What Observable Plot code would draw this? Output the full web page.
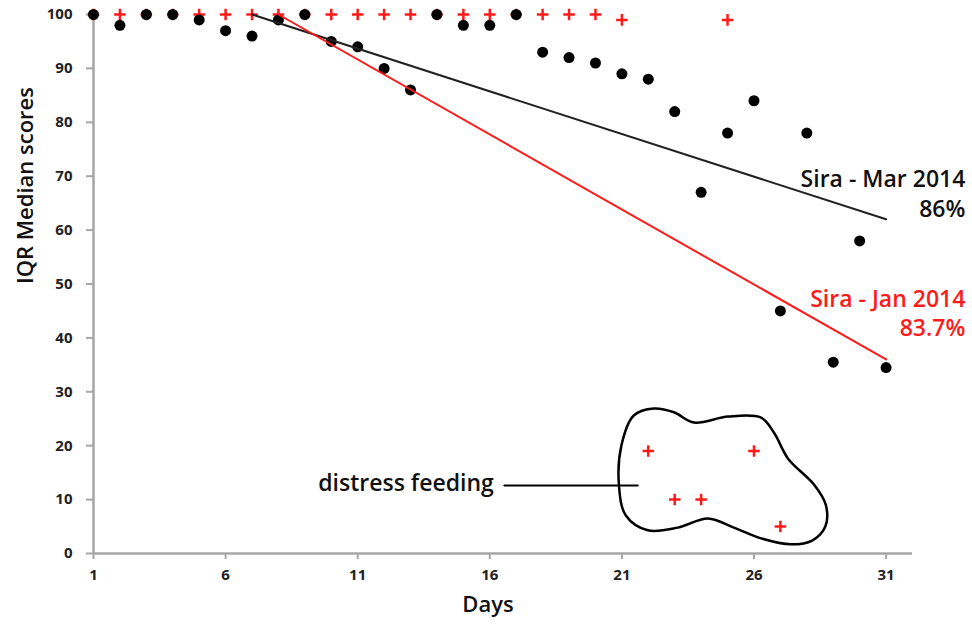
<!DOCTYPE html>
<html>
<head>
<meta charset="utf-8">
<script src="https://cdn.jsdelivr.net/npm/d3@7"></script>
<script src="https://cdn.jsdelivr.net/npm/@observablehq/plot@0.6"></script>
<style>
  html, body { margin: 0; padding: 0; background: #fff; }
  svg { display: block; }
</style>
</head>
<body>
<div id="chart"></div>
<script>
// ---- data ----
const xTicks = [1, 6, 11, 16, 21, 26, 31];
const yTicks = [0, 10, 20, 30, 40, 50, 60, 70, 80, 90, 100];

// Sira - Mar 2014 (black dots)
const marDays   = [1,2,3,4,5,6,7,8,9,10,11,12,13,14,15,16,17,18,19,20,21,22,23,24,25,26,27,28,29,30,31];
const marScores = [100,98,100,100,99,97,96,99,100,95,94,90,86,100,98,98,100,93,92,91,89,88,82,67,78,84,45,78,35.5,58,34.5];

// Sira - Jan 2014 (red crosses)
const janDays   = [1,2,3,4,5,6,7,8,9,10,11,12,13,14,15,16,17,18,19,20,21,22,23,24,25,26,27];
const janScores = [100,100,100,100,100,100,100,100,100,100,100,100,100,100,100,100,100,100,100,100,99,19,10,10,99,19,5];

// trend lines
const marTrendDays = [7, 31];
const marTrendScores = [100, 62];
const janTrendDays = [8, 31];
const janTrendScores = [100, 36];

// series labels
const seriesLabels = ["Sira - Mar 2014\n86%", "Sira - Jan 2014\n83.7%"];
const labelDays = [34, 34];
const labelScores = [67.0, 44.8];

// distress feeding outline
const blobDays   = [22.21,21.45,20.98,20.89,21.15,21.98,23.12,24.26,25.24,26.27,27.40,28.20,28.70,28.72,28.27,27.29,26.76,26.27,25.02,23.73,22.97];
const blobScores = [26.9,25.6,20.0,12.6,7.05,4.3,4.8,6.5,4.8,2.8,1.7,2.4,5.0,9.0,12.8,17.6,22.4,25.2,25.4,24.3,26.2];

const annotText = ["distress feeding"];
const annotDays = [16.15];
const annotScores = [12.9];
const pointerDays = [16.55, 21.6];
const pointerScores = [12.6, 12.6];

// ---- build tables ----
const mar = marDays.map((d, i) => ({day: d, score: marScores[i]}));
const jan = janDays.map((d, i) => ({day: d, score: janScores[i]}));
const marTrend = marTrendDays.map((d, i) => ({day: d, score: marTrendScores[i]}));
const janTrend = janTrendDays.map((d, i) => ({day: d, score: janTrendScores[i]}));
const labels = seriesLabels.map((t, i) => ({text: t, day: labelDays[i], score: labelScores[i], color: i === 0 ? "#111" : "#ff1a1a"}));
const blob = blobDays.map((d, i) => ({day: d, score: blobScores[i]}));
const pointer = pointerDays.map((d, i) => ({day: d, score: pointerScores[i]}));
const annot = annotText.map((t, i) => ({text: t, day: annotDays[i], score: annotScores[i]}));

const axisGray = "#a6a6a6";
const font = "'Open Sans', 'DejaVu Sans', sans-serif";

const chart = Plot.plot({
  width: 972,
  height: 629,
  marginLeft: 93,
  marginRight: 60,
  marginTop: 14,
  marginBottom: 76,
  style: {fontFamily: font, background: "#fff", color: "#222"},
  x: {domain: [1, 32]},
  y: {domain: [0, 100]},
  marks: [
    Plot.axisX({ticks: xTicks, tickSize: 6, stroke: axisGray, strokeWidth: 2, tickFormat: () => "", label: null}),
    Plot.axisY({ticks: yTicks, tickSize: 7, stroke: axisGray, strokeWidth: 2, tickFormat: () => "", label: null}),
    // tick labels
    Plot.text(xTicks, {x: d => d, frameAnchor: "bottom", dy: 26, text: d => String(d), fontSize: 15, fontWeight: "bold", fill: "#222"}),
    Plot.text(yTicks, {y: d => d, frameAnchor: "left", dx: -21, textAnchor: "end", text: d => String(d), fontSize: 15, fontWeight: "bold", fill: "#222"}),
    Plot.ruleX([1], {stroke: axisGray, strokeWidth: 2.5}),
    Plot.ruleY([0], {stroke: axisGray, strokeWidth: 2.5}),
    Plot.text(["IQR Median scores"], {frameAnchor: "left", rotate: -90, dx: -68, fontSize: 22, fontWeight: 600, fill: "#111"}),
    Plot.text(["Days"], {frameAnchor: "bottom", dy: 58, dx: -15, fontSize: 22, fontWeight: 600, fill: "#111"}),
    // data
    Plot.dot(jan, {x: "day", y: "score", symbol: "plus", r: 3.8, stroke: "#ff1a1a", strokeWidth: 2.5}),
    Plot.dot(mar, {x: "day", y: "score", r: 5.5, fill: "#000"}),
    Plot.line(marTrend, {x: "day", y: "score", stroke: "#222", strokeWidth: 2}),
    Plot.line(janTrend, {x: "day", y: "score", stroke: "#ff1a1a", strokeWidth: 2}),
    // labels
    Plot.text(labels, {x: "day", y: "score", text: "text", fill: "color", textAnchor: "end", lineHeight: 1.28, fontSize: 23, fontWeight: 600}),
    // annotation
    Plot.line(blob, {x: "day", y: "score", curve: "catmull-rom-closed", stroke: "#000", strokeWidth: 2.5}),
    Plot.line(pointer, {x: "day", y: "score", stroke: "#000", strokeWidth: 2}),
    Plot.text(annot, {x: "day", y: "score", text: "text", textAnchor: "end", fontSize: 23, fontWeight: 600, fill: "#111"})
  ]
});
document.getElementById("chart").appendChild(chart);
</script>
</body>
</html>
